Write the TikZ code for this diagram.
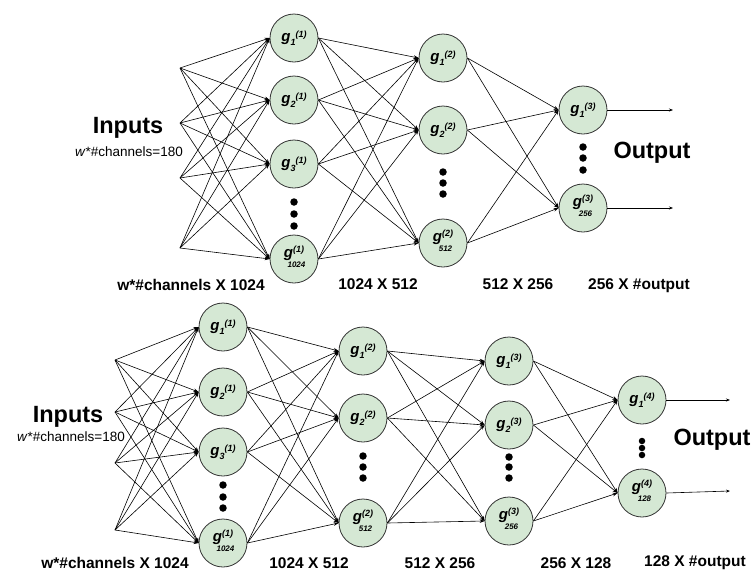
\documentclass[tikz,border=0pt]{standalone}
\usepackage{fontspec}
\setmainfont{Liberation Sans}
\usetikzlibrary{arrows.meta}
\definecolor{nfill}{HTML}{D5E8D4}
\definecolor{nline}{HTML}{333333}
\newcommand\gsub[2]{g\raisebox{-3.5pt}{\fontsize{9}{9}\selectfont #1}\raisebox{4.5pt}{\fontsize{9}{9}\selectfont (#2)}}
\newcommand\gbig[2]{\begin{tabular}{@{}c@{}}g\raisebox{4.5pt}{\fontsize{9}{9}\selectfont (#2)}\\[-5pt]\hspace{5pt}\fontsize{8}{8}\selectfont #1\end{tabular}}
\tikzset{
  neuron/.style={circle, draw=nline, fill=nfill, minimum size=48pt, inner sep=0pt, line width=0.8pt,
    font=\fontsize{15}{15}\selectfont\bfseries\itshape},
  conn/.style={-{Stealth[length=5pt,width=3.6pt]}, line width=0.6pt},
  outarr/.style={-{Stealth[length=4pt,width=3pt]}, line width=0.6pt},
  bigdot/.style={circle, fill=black, inner sep=0pt, minimum size=7.5pt},
  smalldot/.style={circle, fill=black, inner sep=0pt, minimum size=6.5pt},
  bigtitle/.style={font=\fontsize{23.5}{24}\selectfont\bfseries},
  dimlabel/.style={font=\fontsize{15.5}{16}\selectfont\bfseries},
  subtitle/.style={font=\fontsize{13.5}{14}\selectfont}
}
\begin{document}
\begin{tikzpicture}[x=1pt,y=-1pt]
\useasboundingbox (0,0) rectangle (753,574);

%% ---------------- TOP NETWORK ----------------
\coordinate (ta1) at (180,68);
\coordinate (ta2) at (180,123);
\coordinate (ta3) at (180,178);
\coordinate (ta4) at (180,248);

\node[neuron] (tb1) at (294,38)  {\gsub{1}{1}};
\node[neuron] (tb2) at (294,100) {\gsub{2}{1}};
\node[neuron] (tb3) at (294,164) {\gsub{3}{1}};
\node[neuron] (tb4) at (294,259) {\gbig{1024}{1}};
\node[bigdot] (tbd1) at (294,202) {};
\node[bigdot] (tbd2) at (294,214) {};
\node[bigdot] (tbd3) at (294,226) {};

\node[neuron] (tc1) at (443,58)  {\gsub{1}{2}};
\node[neuron] (tc2) at (443,130) {\gsub{2}{2}};
\node[neuron] (tc3) at (443,243) {\gbig{512}{2}};
\node[bigdot] (tcd1) at (443,172) {};
\node[bigdot] (tcd2) at (443,183) {};
\node[bigdot] (tcd3) at (443,194) {};

\node[neuron] (td1) at (583,110) {\gsub{1}{3}};
\node[neuron] (td2) at (583,208) {\gbig{256}{3}};
\node[bigdot] (tdd1) at (583,147) {};
\node[bigdot] (tdd2) at (583,158) {};
\node[bigdot] (tdd3) at (583,170) {};

\coordinate (to1) at (673,110);
\coordinate (to2) at (673,208);

\foreach \i in {1,...,4}
  \foreach \j in {1,...,4}
    \draw[conn] (ta\i) -- (tb\j.west);
\foreach \i in {1,...,4}
  \foreach \j in {1,...,3}
    \draw[conn] (tb\i.east) -- (tc\j.west);
\foreach \i in {1,...,3}
  \foreach \j in {1,2}
    \draw[conn] (tc\i.east) -- (td\j.west);
\draw[outarr] (td1.east) -- (to1);
\draw[outarr] (td2.east) -- (to2);

\node[bigtitle] (tin) at (128,128) {Inputs};
\node[subtitle] (tinsub) at (129,152) {\textit{w}*\#channels=180};
\node[bigtitle] (tout) at (652,153) {Output};

\node[dimlabel] (tl1) at (191,285) {w*\#channels X 1024};
\node[dimlabel] (tl2) at (378,284) {1024 X 512};
\node[dimlabel] (tl3) at (518,284) {512 X 256};
\node[dimlabel] (tl4) at (639,286) {256 X \#output};

%% ---------------- BOTTOM NETWORK ----------------
\coordinate (ba1) at (115,360);
\coordinate (ba2) at (115,412);
\coordinate (ba3) at (115,463);
\coordinate (ba4) at (115,530);

\node[neuron] (bb1) at (223,327) {\gsub{1}{1}};
\node[neuron] (bb2) at (223,392) {\gsub{2}{1}};
\node[neuron] (bb3) at (223,452) {\gsub{3}{1}};
\node[neuron] (bb4) at (223,543) {\gbig{1024}{1}};
\node[bigdot] (bbd1) at (223,485) {};
\node[bigdot] (bbd2) at (223,497) {};
\node[bigdot] (bbd3) at (223,508) {};

\node[neuron] (bc1) at (363,351) {\gsub{1}{2}};
\node[neuron] (bc2) at (363,418) {\gsub{2}{2}};
\node[neuron] (bc3) at (363,523) {\gbig{512}{2}};
\node[bigdot] (bcd1) at (363,456) {};
\node[bigdot] (bcd2) at (363,467) {};
\node[bigdot] (bcd3) at (363,478) {};

\node[neuron] (bd1) at (509,361) {\gsub{1}{3}};
\node[neuron] (bd2) at (509,425) {\gsub{2}{3}};
\node[neuron] (bd3) at (509,521) {\gbig{256}{3}};
\node[bigdot] (bdd1) at (509,457) {};
\node[bigdot] (bdd2) at (509,467) {};
\node[bigdot] (bdd3) at (509,478) {};

\node[neuron] (be1) at (642,400) {\gsub{1}{4}};
\node[neuron] (be2) at (642,493) {\gbig{128}{4}};
\node[smalldot] (bed1) at (642,441) {};
\node[smalldot] (bed2) at (642,448) {};
\node[smalldot] (bed3) at (642,455) {};

\coordinate (bo1) at (730,400);
\coordinate (bo2) at (730,491);

\foreach \i in {1,...,4}
  \foreach \j in {1,...,4}
    \draw[conn] (ba\i) -- (bb\j.west);
\foreach \i in {1,...,4}
  \foreach \j in {1,...,3}
    \draw[conn] (bb\i.east) -- (bc\j.west);
\foreach \i in {1,...,3}
  \foreach \j in {1,...,3}
    \draw[conn] (bc\i.east) -- (bd\j.west);
\foreach \i in {1,...,3}
  \foreach \j in {1,2}
    \draw[conn] (bd\i.east) -- (be\j.west);
\draw[outarr] (be1.east) -- (bo1);
\draw[outarr] (be2.east) -- (bo2);

\node[bigtitle] (bin) at (68,417) {Inputs};
\node[subtitle] (binsub) at (71,437) {\textit{w}*\#channels=180};
\node[bigtitle] (bout) at (712,440) {Output};

\node[dimlabel] (bl1) at (115,563) {w*\#channels X 1024};
\node[dimlabel] (bl2) at (309,563) {1024 X 512};
\node[dimlabel] (bl3) at (440,563) {512 X 256};
\node[dimlabel] (bl4) at (576,563) {256 X 128};
\node[dimlabel] (bl5) at (695,563) {128 X \#output};
\end{tikzpicture}
\end{document}
